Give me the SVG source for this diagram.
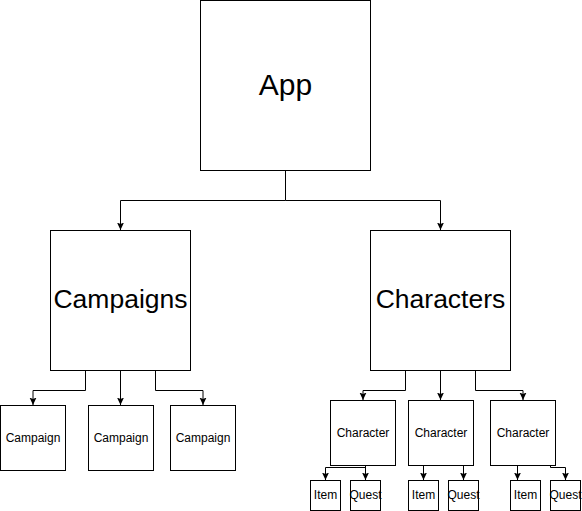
<svg xmlns="http://www.w3.org/2000/svg" width="582" height="511" viewBox="0 0 582 511">
<style>
.box{fill:#fff;stroke:#000;stroke-width:1}
.t{font-family:"Liberation Sans",Arial,sans-serif;fill:#000;text-anchor:middle;dominant-baseline:central}
.big{font-size:30px}
.mid{font-size:26.5px}
.sm{font-size:12px}
.edge{fill:none;stroke:#000;stroke-width:1}
</style>
<defs>
<marker id="arr" markerUnits="userSpaceOnUse" markerWidth="9" markerHeight="9" refX="7.5" refY="4" orient="auto">
<path d="M0,0.5 L7.5,4 L0,7.5 L1.5,4 Z" fill="#000"/>
</marker>
</defs>
<g id="connectors">
<path class="edge" d="M285.5,170.5 V200.5 H120.5 V230" marker-end="url(#arr)"/>
<path class="edge" d="M285.5,200.5 H440.5 V230" marker-end="url(#arr)"/>
<path class="edge" d="M85.5,370.5 V390.5 H33 V405" marker-end="url(#arr)"/>
<path class="edge" d="M120.5,370.5 V405" marker-end="url(#arr)"/>
<path class="edge" d="M155.5,370.5 V390.5 H203 V405" marker-end="url(#arr)"/>
<path class="edge" d="M405.5,370.5 V390.5 H363 V400" marker-end="url(#arr)"/>
<path class="edge" d="M440.5,370.5 V400" marker-end="url(#arr)"/>
<path class="edge" d="M475.5,370.5 V390.5 H523 V400" marker-end="url(#arr)"/>
<path class="edge" d="M365.5,465.5 V467.5 H325.5 V480" marker-end="url(#arr)"/>
<path class="edge" d="M365.5,465.5 V480" marker-end="url(#arr)"/>
<path class="edge" d="M423.5,465.5 V480" marker-end="url(#arr)"/>
<path class="edge" d="M463.5,465.5 V480" marker-end="url(#arr)"/>
<path class="edge" d="M517.5,465.5 V480" marker-end="url(#arr)"/>
<path class="edge" d="M550.5,465.5 V467.5 H565.5 V480" marker-end="url(#arr)"/>
</g>
<g id="app"><rect class="box" x="200.5" y="0.5" width="170" height="170"/><text class="t big" x="285.5" y="84.5">App</text></g>
<g id="campaigns"><rect class="box" x="50.5" y="230.5" width="140" height="140"/><text class="t mid" x="120.5" y="299">Campaigns</text></g>
<g id="characters"><rect class="box" x="370.5" y="230.5" width="140" height="140"/><text class="t mid" x="440.5" y="299">Characters</text></g>
<g id="campaign1"><rect class="box" x="0.5" y="405.5" width="65" height="65"/><text class="t sm" x="33" y="437.5">Campaign</text></g>
<g id="campaign2"><rect class="box" x="88.5" y="405.5" width="65" height="65"/><text class="t sm" x="121" y="437.5">Campaign</text></g>
<g id="campaign3"><rect class="box" x="170.5" y="405.5" width="65" height="65"/><text class="t sm" x="203" y="437.5">Campaign</text></g>
<g id="character1"><rect class="box" x="330.5" y="400.5" width="65" height="65"/><text class="t sm" x="363" y="432.5">Character</text></g>
<g id="character2"><rect class="box" x="408.5" y="400.5" width="65" height="65"/><text class="t sm" x="441" y="432.5">Character</text></g>
<g id="character3"><rect class="box" x="490.5" y="400.5" width="65" height="65"/><text class="t sm" x="523" y="432.5">Character</text></g>
<g id="item1"><rect class="box" x="310.5" y="480.5" width="30" height="30"/><text class="t sm" x="325.5" y="494.5">Item</text></g>
<g id="quest1"><rect class="box" x="350.5" y="480.5" width="30" height="30"/><text class="t sm" x="365.5" y="494.5">Quest</text></g>
<g id="item2"><rect class="box" x="408.5" y="480.5" width="30" height="30"/><text class="t sm" x="423.5" y="494.5">Item</text></g>
<g id="quest2"><rect class="box" x="448.5" y="480.5" width="30" height="30"/><text class="t sm" x="463.5" y="494.5">Quest</text></g>
<g id="item3"><rect class="box" x="510.5" y="480.5" width="30" height="30"/><text class="t sm" x="525.5" y="494.5">Item</text></g>
<g id="quest3"><rect class="box" x="550.5" y="480.5" width="30" height="30"/><text class="t sm" x="565.5" y="494.5">Quest</text></g>
</svg>
